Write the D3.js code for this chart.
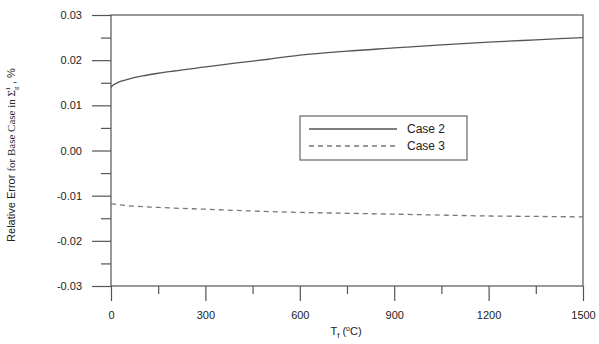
<!DOCTYPE html>
<html>

<head>
    <meta charset='utf-8'>
    <title>Relative Error</title>
    <script type='text/javascript' src='https://cdn.jsdelivr.net/npm/d3@7'></script>
    <style>
        body { margin: 0; background: #fff; }
        text { font-family: Arial, 'Liberation Sans', sans-serif; fill: #222; }
    </style>
</head>

<body>
    <svg width='599' height='344'></svg>
    <script type='text/javascript'>

        // data
        const case2T = [0, 5, 15, 30, 50, 100, 150, 200, 300, 400, 500, 600, 750, 900, 1050, 1200, 1350, 1500]
        const case2V = [0.0140, 0.0144, 0.0148, 0.0153, 0.0157, 0.0165, 0.0171, 0.0176, 0.0185, 0.0194, 0.0202, 0.0211,
            0.0220, 0.0227, 0.0234, 0.0240, 0.0245, 0.0250]
        const case3T = [0, 50, 150, 300, 450, 600, 750, 900, 1050, 1200, 1350, 1500]
        const case3V = [-0.0118, -0.0122, -0.0126, -0.0130, -0.0134, -0.0137, -0.0139, -0.0141, -0.0143, -0.0145, -0.0146, -0.0147]
        const xTicks = [0, 300, 600, 900, 1200, 1500]
        const xMinor = [150, 450, 750, 1050, 1350]
        const yTicks = [-0.03, -0.02, -0.01, 0, 0.01, 0.02, 0.03]
        const yMinor = [-0.025, -0.015, -0.005, 0.005, 0.015, 0.025]
        const seriesNames = ['Case 2', 'Case 3']

        const svg = d3.select('svg')
        const margin = { top: 15, left: 111, bottom: 58, right: 16 }
        const innerWidth = 599 - margin.left - margin.right
        const innerHeight = 344 - margin.top - margin.bottom
        const g = svg.append('g').attr('transform', `translate(${margin.left},${margin.top})`)

        const x = d3.scaleLinear().domain([0, 1500]).range([0, innerWidth])
        const y = d3.scaleLinear().domain([-0.03, 0.03]).range([innerHeight, 0])
        const stroke = '#555'

        function styleAxis(sel) {
            sel.selectAll('.domain').remove()
            sel.selectAll('line').attr('stroke', stroke).attr('stroke-width', 1.2)
            sel.selectAll('text').attr('font-size', 11).attr('fill', '#222')
        }

        // frame
        g.append('rect')
            .attr('width', innerWidth).attr('height', innerHeight)
            .attr('fill', 'none').attr('stroke', stroke).attr('stroke-width', 1.2)

        // x axis
        g.append('g').attr('transform', `translate(0,${innerHeight})`)
            .call(d3.axisBottom(x).tickValues(xTicks).tickSize(15).tickPadding(10).tickFormat(d3.format('d')))
            .call(styleAxis)
        const xm = g.append('g').attr('transform', `translate(0,${innerHeight})`)
            .call(d3.axisBottom(x).tickValues(xMinor).tickSize(8).tickFormat(''))
            .call(styleAxis)
        xm.selectAll('text').remove()

        // y axis
        g.append('g')
            .call(d3.axisLeft(y).tickValues(yTicks).tickSize(19).tickPadding(10)
                .tickFormat(d => d3.format('.2f')(d).replace('−', '-')))
            .call(styleAxis)
        const ym = g.append('g')
            .call(d3.axisLeft(y).tickValues(yMinor).tickSize(10).tickFormat(''))
            .call(styleAxis)
        ym.selectAll('text').remove()

        // lines
        const line = d3.line().x(d => x(d[0])).y(d => y(d[1])).curve(d3.curveMonotoneX)
        g.append('path')
            .datum(d3.zip(case2T, case2V))
            .attr('d', line)
            .attr('fill', 'none').attr('stroke', '#555').attr('stroke-width', 1.3)
        g.append('path')
            .datum(d3.zip(case3T, case3V))
            .attr('d', line)
            .attr('fill', 'none').attr('stroke', '#777').attr('stroke-width', 1.3)
            .attr('stroke-dasharray', '5,4')

        // legend
        const legend = svg.append('g').attr('transform', 'translate(300,116)')
        legend.append('rect')
            .attr('width', 167).attr('height', 44)
            .attr('fill', '#fff').attr('stroke', '#666').attr('stroke-width', 1.2)
        seriesNames.forEach((name, i) => {
            const ly = 13 + i * 17
            legend.append('line')
                .attr('x1', 9).attr('x2', 97).attr('y1', ly).attr('y2', ly)
                .attr('stroke', i === 0 ? '#555' : '#777').attr('stroke-width', 1.3)
                .attr('stroke-dasharray', i === 0 ? null : '5,4')
            legend.append('text')
                .attr('x', 107).attr('y', ly + 4)
                .attr('font-size', 12)
                .text(name)
        })

        // x title
        const xt = svg.append('text')
            .attr('x', 346).attr('y', 335)
            .attr('text-anchor', 'middle').attr('font-size', 11)
        xt.append('tspan').text('T')
        xt.append('tspan').attr('font-size', 8).attr('dy', 3).text('f')
        xt.append('tspan').attr('dy', -3).text(' (')
        xt.append('tspan').attr('font-size', 7).attr('dy', -4).text('o')
        xt.append('tspan').attr('dy', 4).text('C)')

        // y title
        const serif = "'Liberation Serif', 'Times New Roman', serif"
        const yt = svg.append('text')
            .attr('transform', 'translate(15,155) rotate(-90)')
            .attr('text-anchor', 'middle').attr('font-size', 11)
        yt.append('tspan').text('Relative Error ')
        yt.append('tspan').attr('font-family', serif).text('for Base Case in Σ')
        yt.append('tspan').attr('font-family', serif).attr('font-size', 7).attr('dy', 3).text('g')
        yt.append('tspan').attr('font-family', serif).attr('font-size', 7).attr('dx', -4).attr('dy', -8).text('1')
        yt.append('tspan').attr('dy', 5).text(' , %')
    </script>
</body>

</html>
